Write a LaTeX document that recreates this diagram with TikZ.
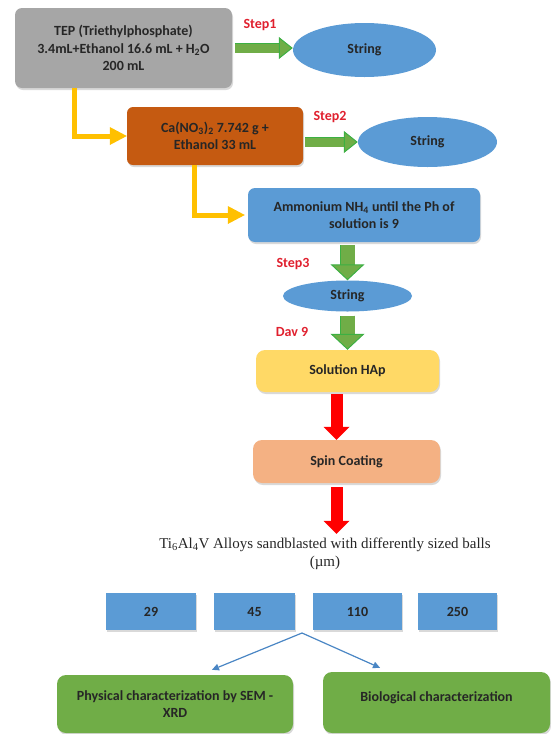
\documentclass[tikz,border=0pt]{standalone}
\usepackage{fontspec}
\setmainfont{Carlito}
\newfontfamily\serifti{Liberation Serif}
\usetikzlibrary{arrows.meta,shapes.geometric,shadows}

\definecolor{tepgray}{HTML}{A6A6A6}
\definecolor{caorange}{HTML}{C55A11}
\definecolor{stringblue}{HTML}{5B9BD5}
\definecolor{linkblue}{HTML}{4A86C4}
\definecolor{hapyellow}{HTML}{FFD966}
\definecolor{spinpeach}{HTML}{F4B183}
\definecolor{chargreen}{HTML}{70AD47}
\definecolor{outgreen}{HTML}{3CB043}
\definecolor{linkyellow}{HTML}{FFC000}
\definecolor{stepred}{HTML}{E0202E}
\definecolor{redarrow}{HTML}{FF0000}
\definecolor{txt}{HTML}{262626}

\begin{document}
\begin{tikzpicture}[x=1pt, y=-1pt,
  font=\bfseries\fontsize{14}{17.5}\selectfont, text=txt,
  box/.style={rounded corners=7pt, align=center, inner sep=2pt,
    drop shadow={shadow xshift=1pt, shadow yshift=-2pt, opacity=.3}},
  oval/.style={ellipse, fill=stringblue, inner sep=0pt},
  sizebox/.style={fill=stringblue, minimum height=37pt,
    drop shadow={shadow xshift=1pt, shadow yshift=-2pt, opacity=.3}},
  steplabel/.style={text=stepred, inner sep=0pt},
  gright/.style={line width=9pt, draw=chargreen,
    preaction={-, draw=outgreen, line width=10.5pt, shorten >=13pt},
    -{Triangle[length=14pt, width=22pt, line width=1pt, color=outgreen, fill=chargreen]}},
  gdown/.style={line width=14pt, draw=chargreen,
    preaction={-, draw=outgreen, line width=15.5pt, shorten >=15pt},
    -{Triangle[length=16pt, width=34pt, line width=1pt, color=outgreen, fill=chargreen]}},
  rdown/.style={line width=12pt, draw=redarrow,
    -{Triangle[length=13pt, width=26pt, line width=0pt]}},
  ylink/.style={line width=5pt, draw=linkyellow,
    -{Triangle[length=17pt, width=18pt, line width=0pt]}},
  blink/.style={line width=1.2pt, draw=linkblue,
    -{Triangle[length=7pt, width=7pt, line width=0pt]}}]
\useasboundingbox (0,0) rectangle (551,734);

% preparation
\node [box, fill=tepgray, minimum width=217pt, minimum height=80pt] (TEP) at (123.5,48)
  {TEP (Triethylphosphate)\\3.4mL+Ethanol 16.6 mL + H\textsubscript{2}O\\200 mL};
\node [oval, minimum width=143pt, minimum height=54pt] (S1) at (364.5,50) {String};
\node [box, fill=caorange, rounded corners=6pt, minimum width=176pt, minimum height=58pt] (Ca) at (215,136)
  {Ca(NO\textsubscript{3})\textsubscript{2} 7.742 g +\\Ethanol 33 mL};
\node [oval, minimum width=139pt, minimum height=50pt] (S2) at (427.5,142) {String};
\node [box, fill=stringblue, minimum width=232pt, minimum height=54pt] (NH) at (364,215)
  {Ammonium NH\textsubscript{4} until the Ph of\\solution is 9};
\node [oval, minimum width=129pt, minimum height=31pt] (S3) at (347.5,296) {String};
\node [box, fill=hapyellow, rounded corners=9pt, minimum width=183pt, minimum height=42pt] (HAp) at (347.5,371) {Solution HAp};
\node [box, fill=spinpeach, rounded corners=9pt, minimum width=187pt, minimum height=43pt] (Spin) at (346.5,461.5) {Spin Coating};

\node [steplabel] (L1) at (260,25) {Step1};
\node [steplabel] (L2) at (330,117) {Step2};
\node [steplabel] (L3) at (293,264) {Step3};
\node [steplabel] (L4) at (292,332) {Dav 9};

% samples
\node [font=\serifti\mdseries\fontsize{15}{18}\selectfont, align=center, inner sep=0pt] (Ti) at (325,554)
  {Ti\textsubscript{6}Al\textsubscript{4}V Alloys sandblasted with differently sized balls\\(µm)};
\node [sizebox, minimum width=90pt] (B29) at (151,611.5) {29};
\node [sizebox, minimum width=81pt] (B45) at (254.5,611.5) {45};
\node [sizebox, minimum width=89pt] (B110) at (357.5,611.5) {110};
\node [sizebox, minimum width=79pt] (B250) at (457.5,611.5) {250};
\coordinate (split) at (302,633);
\node [box, fill=chargreen, rounded corners=9pt, minimum width=236pt, minimum height=58pt] (Phys) at (175,704)
  {Physical characterization by SEM -\\XRD};
\node [box, fill=chargreen, rounded corners=9pt, minimum width=227pt, minimum height=61pt,
  text height=10pt, text depth=13pt] (Bio) at (436.5,702.5)
  {Biological characterization};

% connectors
\draw [gright] ([xshift=3pt]TEP.east) -- (S1.west |- TEP.east);
\draw [gright] ([xshift=2pt]Ca.east |- S2.west) -- (S2.west);
\draw [ylink] ([xshift=-49pt]TEP.south) |- (Ca.west);
\draw [ylink] ([xshift=-21pt]Ca.south) |- ([xshift=-3pt]NH.west);
\draw [gdown] ([yshift=-3pt]S3.north |- NH.south) -- (S3.north);
\draw [gdown] ([yshift=-4pt]S3.south) -- (S3.south |- HAp.north);
\draw [rdown] ([xshift=-11pt, yshift=-2pt]HAp.south) -- ([xshift=-11pt]HAp.south |- Spin.north);
\draw [rdown] ([xshift=-10pt, yshift=-4pt]Spin.south) -- ([xshift=-10pt, yshift=4pt]Spin.south |- Ti.north);
\draw [blink] (split) -- ([xshift=37pt, yshift=5pt]Phys.north);
\draw [blink] (split) -- ([xshift=-56.5pt, yshift=4pt]Bio.north);
\end{tikzpicture}
\end{document}
